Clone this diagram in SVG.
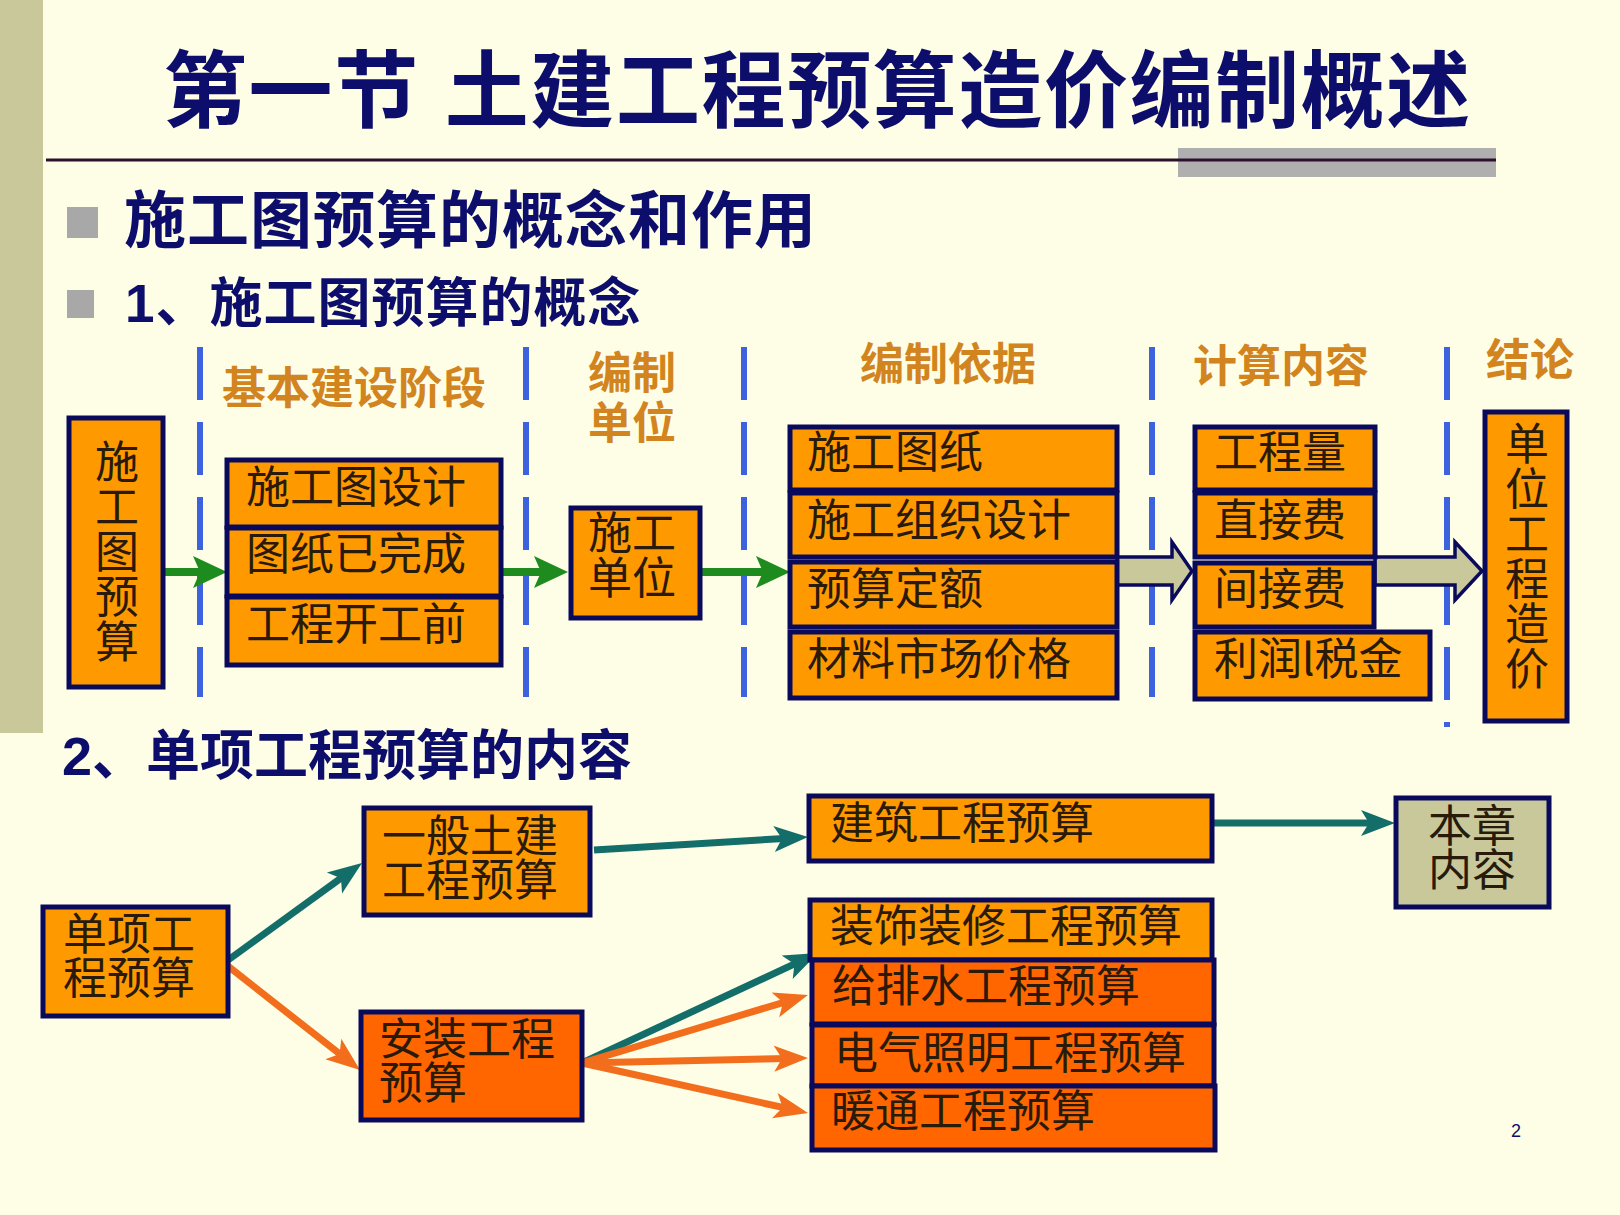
<svg xmlns="http://www.w3.org/2000/svg" width="1620" height="1215" viewBox="0 0 1620 1215">
<defs>
<style>
.box{fill:#FF9900;stroke:#0A0A5C;stroke-width:5}
.boxd{fill:#FF6600;stroke:#0A0A5C;stroke-width:5}
.boxk{fill:#C8C89B;stroke:#0A0A5C;stroke-width:5}
.tb{font-family:"Noto Sans CJK SC",sans-serif;font-size:44px;fill:#2A1A0A}
.th{font-family:"Noto Sans CJK SC",sans-serif;font-weight:700;font-size:44px;fill:#D2841E}
.tn{font-family:"Liberation Sans","Noto Sans CJK SC",sans-serif;font-weight:700;fill:#0D0D6B}
.dash{stroke:#3D62DD;stroke-width:6;stroke-dasharray:53 22;fill:none}
.g{stroke:#1E8B1E;stroke-width:8;fill:none}
.tl{stroke:#136E6A;stroke-width:7;fill:none}
.or{stroke:#F26E1C;stroke-width:7;fill:none}
.blk{fill:#C8C89B;stroke:#0A0A5C;stroke-width:3.5;stroke-linejoin:miter}
</style>
<marker id="hg" markerUnits="userSpaceOnUse" markerWidth="34" markerHeight="34" viewBox="0 0 34 34" refX="14" refY="17" orient="auto"><path d="M0,1 L34,17 L0,33 L7,17 Z" fill="#1E8B1E"/></marker>
<marker id="ht" markerUnits="userSpaceOnUse" markerWidth="34" markerHeight="28" viewBox="0 0 34 28" refX="14" refY="14" orient="auto"><path d="M0,1 L34,14 L0,27 L8,14 Z" fill="#136E6A"/></marker>
<marker id="ho" markerUnits="userSpaceOnUse" markerWidth="34" markerHeight="28" viewBox="0 0 34 28" refX="14" refY="14" orient="auto"><path d="M0,1 L34,14 L0,27 L8,14 Z" fill="#F26E1C"/></marker>
</defs>
<rect x="0" y="0" width="1620" height="1215" fill="#FEFEE6"/>
<rect x="0" y="0" width="43" height="733" fill="#C8C89B"/>
<g id="header">
<text class="tn" x="163" y="121" font-size="84" letter-spacing="1.6">第一节 土建工程预算造价编制概述</text>
<rect x="1178" y="148" width="318" height="29" fill="#B0AFB0"/>
<line x1="46" y1="160" x2="1496" y2="160" stroke="#2D0F2D" stroke-width="3"/>
<rect x="67" y="207" width="31" height="31" fill="#A8A8A8"/>
<text class="tn" x="124" y="243" font-size="62" letter-spacing="1">施工图预算的概念和作用</text>
<rect x="67" y="290" width="27" height="28" fill="#A8A8A8"/>
<text class="tn" x="125" y="322" font-size="53" letter-spacing="1">1、施工图预算的概念</text>
<text class="tn" x="62" y="775" font-size="54">2、单项工程预算的内容</text>
<text x="1516" y="1137" font-family="Liberation Sans, sans-serif" font-size="18" fill="#0D0D6B" text-anchor="middle">2</text>
</g>
<g id="phase-labels">
<line class="dash" x1="200" y1="347" x2="200" y2="697"/>
<line class="dash" x1="526" y1="347" x2="526" y2="697"/>
<line class="dash" x1="744" y1="347" x2="744" y2="697"/>
<line class="dash" x1="1152" y1="347" x2="1152" y2="697"/>
<line class="dash" x1="1447" y1="347" x2="1447" y2="727"/>
<text class="th" x="354" y="404" text-anchor="middle">基本建设阶段</text>
<text class="th" text-anchor="middle"><tspan x="632" y="389">编制</tspan><tspan x="632" y="439">单位</tspan></text>
<text class="th" x="948" y="380" text-anchor="middle">编制依据</text>
<text class="th" x="1281" y="382" text-anchor="middle">计算内容</text>
<text class="th" x="1530" y="376" text-anchor="middle">结论</text>
</g>
<g id="connectors">
<line class="g" x1="164" y1="572" x2="207" y2="572" marker-end="url(#hg)"/>
<line class="g" x1="501" y1="572" x2="548" y2="572" marker-end="url(#hg)"/>
<line class="g" x1="700" y1="572" x2="770" y2="572" marker-end="url(#hg)"/>
<polygon class="blk" points="1117,557 1172,557 1172,542 1192,571 1172,600 1172,585 1117,585"/>
<polygon class="blk" points="1375,557 1455,557 1455,542 1482,571 1455,600 1455,585 1375,585"/>
<line class="tl" x1="224" y1="963" x2="345.8" y2="874.7" marker-end="url(#ht)"/>
<line class="or" x1="224" y1="963" x2="344.3" y2="1057.6" marker-end="url(#ho)"/>
<line class="tl" x1="594" y1="850" x2="788" y2="838.2" marker-end="url(#ht)"/>
<line class="tl" x1="1212" y1="823" x2="1375" y2="823" marker-end="url(#ht)"/>
<line class="tl" x1="582" y1="1063" x2="799.9" y2="961.4" marker-end="url(#ht)"/>
<line class="or" x1="582" y1="1063" x2="788.8" y2="1000.8" marker-end="url(#ho)"/>
<line class="or" x1="582" y1="1063" x2="788" y2="1058.4" marker-end="url(#ho)"/>
<line class="or" x1="582" y1="1063" x2="788.5" y2="1108.7" marker-end="url(#ho)"/>
</g>
<g id="node-sgtys">
<rect class="box" x="69" y="418" width="94" height="269"/>
<text class="tb" text-anchor="middle"><tspan x="117" y="478">施</tspan><tspan x="117" y="523">工</tspan><tspan x="117" y="568">图</tspan><tspan x="117" y="613">预</tspan><tspan x="117" y="658">算</tspan></text>
</g>
<g id="node-stage">
<rect class="box" x="227" y="460" width="274" height="67"/>
<rect class="box" x="227" y="528" width="274" height="68"/>
<rect class="box" x="227" y="597" width="274" height="68"/>
<text class="tb" x="246" y="503">施工图设计</text>
<text class="tb" x="246" y="570">图纸已完成</text>
<text class="tb" x="246" y="640">工程开工前</text>
</g>
<g id="node-sgdw">
<rect class="box" x="571" y="508" width="129" height="110"/>
<text class="tb"><tspan x="588" y="549">施工</tspan><tspan x="588" y="594">单位</tspan></text>
</g>
<g id="node-basis">
<rect class="box" x="790" y="427" width="327" height="63"/>
<rect class="box" x="790" y="493" width="327" height="64"/>
<rect class="box" x="790" y="562" width="327" height="65"/>
<rect class="box" x="790" y="632" width="327" height="66"/>
<text class="tb" x="807" y="468">施工图纸</text>
<text class="tb" x="807" y="536">施工组织设计</text>
<text class="tb" x="807" y="605">预算定额</text>
<text class="tb" x="807" y="675">材料市场价格</text>
</g>
<g id="node-calc">
<rect class="box" x="1195" y="427" width="180" height="63"/>
<rect class="box" x="1195" y="493" width="180" height="64"/>
<rect class="box" x="1195" y="563" width="179" height="64"/>
<rect class="box" x="1195" y="632" width="235" height="67"/>
<text class="tb" x="1214" y="468">工程量</text>
<text class="tb" x="1214" y="536">直接费</text>
<text class="tb" x="1214" y="605">间接费</text>
<text class="tb" x="1214" y="675">利润l税金</text>
</g>
<g id="node-dwgczj">
<rect class="box" x="1485" y="412" width="82" height="309"/>
<text class="tb" text-anchor="middle"><tspan x="1527" y="460">单</tspan><tspan x="1527" y="505">位</tspan><tspan x="1527" y="550">工</tspan><tspan x="1527" y="595">程</tspan><tspan x="1527" y="640">造</tspan><tspan x="1527" y="685">价</tspan></text>
</g>
<g id="node-dxgcys">
<rect class="box" x="43" y="907" width="185" height="109"/>
<text class="tb" font-size="43"><tspan x="63" y="950">单项工</tspan><tspan x="63" y="994">程预算</tspan></text>
</g>
<g id="node-ybtj">
<rect class="box" x="364" y="808" width="226" height="107"/>
<text class="tb" font-size="43"><tspan x="382" y="852">一般土建</tspan><tspan x="382" y="896">工程预算</tspan></text>
</g>
<g id="node-azgc">
<rect class="boxd" x="361" y="1012" width="221" height="108"/>
<text class="tb" font-size="43"><tspan x="379" y="1055">安装工程</tspan><tspan x="379" y="1099">预算</tspan></text>
</g>
<g id="node-jzgc">
<rect class="box" x="809" y="796" width="403" height="65"/>
<text class="tb" x="830" y="839">建筑工程预算</text>
</g>
<g id="node-bznr">
<rect class="boxk" x="1396" y="798" width="153" height="109"/>
<text class="tb" font-size="43"><tspan x="1428" y="842">本章</tspan><tspan x="1428" y="886">内容</tspan></text>
</g>
<g id="node-zszx">
<rect class="box" x="810" y="900" width="402" height="60"/>
<text class="tb" x="830" y="942">装饰装修工程预算</text>
</g>
<g id="node-gps">
<rect class="boxd" x="812" y="960" width="402" height="64"/>
<text class="tb" x="832" y="1002">给排水工程预算</text>
</g>
<g id="node-dqzm">
<rect class="boxd" x="812" y="1025" width="402" height="61"/>
<text class="tb" x="834" y="1069">电气照明工程预算</text>
</g>
<g id="node-nt">
<rect class="boxd" x="812" y="1086" width="403" height="64"/>
<text class="tb" x="831" y="1127">暖通工程预算</text>
</g>
</svg>
